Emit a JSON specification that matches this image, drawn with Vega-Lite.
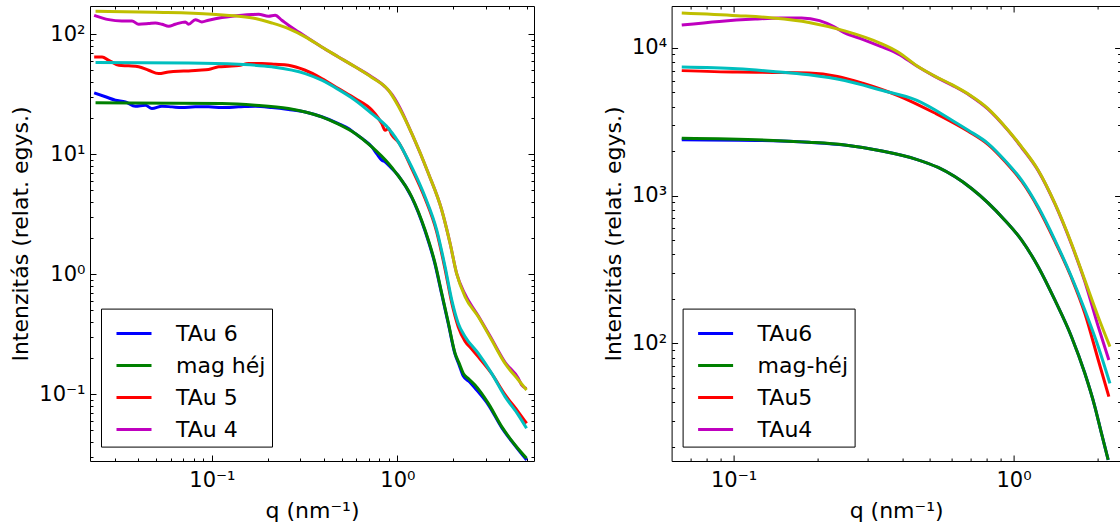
{
"$schema": "https://vega.github.io/schema/vega-lite/v6.json",
"background": "white",
"padding": {"left": 9, "top": 5, "right": 0, "bottom": 0},
"config": {
 "font": "DejaVu Sans",
 "view": {"stroke": "black", "strokeWidth": 1},
 "axis": {"labelFont": "DejaVu Sans", "titleFont": "DejaVu Sans", "labelColor": "black", "titleColor": "black", "tickColor": "black", "tickWidth": 1, "titleFontWeight": "normal", "grid": false, "domain": false}
},
"datasets": {
 "d": [
 {"p":"L","s":"TAu 6","q":0.0232,"I":32.4},{"p":"L","s":"TAu 6","q":0.0267,"I":30.1},{"p":"L","s":"TAu 6","q":0.0302,"I":28.2},{"p":"L","s":"TAu 6","q":0.0342,"I":27.3},{"p":"L","s":"TAu 6","q":0.0387,"I":25.1},{"p":"L","s":"TAu 6","q":0.0438,"I":25.6},{"p":"L","s":"TAu 6","q":0.0475,"I":24.0},{"p":"L","s":"TAu 6","q":0.0538,"I":25.1},{"p":"L","s":"TAu 6","q":0.061,"I":24.8},{"p":"L","s":"TAu 6","q":0.0689,"I":24.5},{"p":"L","s":"TAu 6","q":0.0814,"I":24.8},{"p":"L","s":"TAu 6","q":0.0959,"I":24.8},{"p":"L","s":"TAu 6","q":0.1132,"I":24.5},{"p":"L","s":"TAu 6","q":0.1393,"I":24.8},{"p":"L","s":"TAu 6","q":0.1714,"I":25.1},{"p":"L","s":"TAu 6","q":0.2104,"I":24.5},{"p":"L","s":"TAu 6","q":0.2588,"I":23.6},{"p":"L","s":"TAu 6","q":0.3184,"I":22.5},{"p":"L","s":"TAu 6","q":0.3908,"I":20.5},{"p":"L","s":"TAu 6","q":0.4808,"I":18.0},{"p":"L","s":"TAu 6","q":0.55,"I":16.2},{"p":"L","s":"TAu 6","q":0.5916,"I":14.9},{"p":"L","s":"TAu 6","q":0.65,"I":13.4},{"p":"L","s":"TAu 6","q":0.7278,"I":11.5},{"p":"L","s":"TAu 6","q":0.78,"I":9.9},{"p":"L","s":"TAu 6","q":0.8232,"I":8.91},{"p":"L","s":"TAu 6","q":0.86,"I":8.6},{"p":"L","s":"TAu 6","q":0.8954,"I":8.09},{"p":"L","s":"TAu 6","q":1.012,"I":6.61},{"p":"L","s":"TAu 6","q":1.194,"I":4.37},{"p":"L","s":"TAu 6","q":1.409,"I":2.29},{"p":"L","s":"TAu 6","q":1.596,"I":1.202},{"p":"L","s":"TAu 6","q":1.734,"I":0.676},{"p":"L","s":"TAu 6","q":1.884,"I":0.38},{"p":"L","s":"TAu 6","q":2.046,"I":0.214},{"p":"L","s":"TAu 6","q":2.15,"I":0.175},{"p":"L","s":"TAu 6","q":2.265,"I":0.141},{"p":"L","s":"TAu 6","q":2.45,"I":0.126},{"p":"L","s":"TAu 6","q":2.618,"I":0.112},{"p":"L","s":"TAu 6","q":3.09,"I":0.0813},{"p":"L","s":"TAu 6","q":3.648,"I":0.0525},{"p":"L","s":"TAu 6","q":4.305,"I":0.0372},{"p":"L","s":"TAu 6","q":4.966,"I":0.0282},
 {"p":"L","s":"mag héj","q":0.0236,"I":26.8},{"p":"L","s":"mag héj","q":0.1132,"I":26.4},{"p":"L","s":"mag héj","q":0.1714,"I":25.6},{"p":"L","s":"mag héj","q":0.2588,"I":24.0},{"p":"L","s":"mag héj","q":0.3184,"I":22.5},{"p":"L","s":"mag héj","q":0.3908,"I":20.5},{"p":"L","s":"mag héj","q":0.4808,"I":17.8},{"p":"L","s":"mag héj","q":0.5916,"I":14.9},{"p":"L","s":"mag héj","q":0.7278,"I":11.5},{"p":"L","s":"mag héj","q":0.8954,"I":8.36},{"p":"L","s":"mag héj","q":0.973,"I":7.13},{"p":"L","s":"mag héj","q":1.194,"I":4.41},{"p":"L","s":"mag héj","q":1.409,"I":2.33},{"p":"L","s":"mag héj","q":1.596,"I":1.227},{"p":"L","s":"mag héj","q":1.734,"I":0.69},{"p":"L","s":"mag héj","q":1.884,"I":0.388},{"p":"L","s":"mag héj","q":2.046,"I":0.218},{"p":"L","s":"mag héj","q":2.15,"I":0.181},{"p":"L","s":"mag héj","q":2.265,"I":0.1486},{"p":"L","s":"mag héj","q":2.42,"I":0.134},{"p":"L","s":"mag héj","q":2.618,"I":0.1189},{"p":"L","s":"mag héj","q":3.09,"I":0.0836},{"p":"L","s":"mag héj","q":3.648,"I":0.0535},{"p":"L","s":"mag héj","q":4.305,"I":0.0376},{"p":"L","s":"mag héj","q":4.966,"I":0.0291},
 {"p":"L","s":"TAu 5","q":0.0232,"I":64.7},{"p":"L","s":"TAu 5","q":0.0256,"I":64.7},{"p":"L","s":"TAu 5","q":0.0278,"I":60.7},{"p":"L","s":"TAu 5","q":0.0315,"I":55.2},{"p":"L","s":"TAu 5","q":0.0356,"I":54.5},{"p":"L","s":"TAu 5","q":0.0403,"I":53.5},{"p":"L","s":"TAu 5","q":0.0456,"I":50.1},{"p":"L","s":"TAu 5","q":0.0516,"I":47.0},{"p":"L","s":"TAu 5","q":0.0585,"I":48.5},{"p":"L","s":"TAu 5","q":0.0662,"I":49.2},{"p":"L","s":"TAu 5","q":0.0748,"I":49.4},{"p":"L","s":"TAu 5","q":0.0847,"I":50.1},{"p":"L","s":"TAu 5","q":0.0959,"I":50.8},{"p":"L","s":"TAu 5","q":0.1087,"I":53.5},{"p":"L","s":"TAu 5","q":0.123,"I":54.1},{"p":"L","s":"TAu 5","q":0.1393,"I":54.8},{"p":"L","s":"TAu 5","q":0.1578,"I":57.0},{"p":"L","s":"TAu 5","q":0.1858,"I":57.0},{"p":"L","s":"TAu 5","q":0.2193,"I":56.2},{"p":"L","s":"TAu 5","q":0.2588,"I":55.2},{"p":"L","s":"TAu 5","q":0.3184,"I":50.1},{"p":"L","s":"TAu 5","q":0.3908,"I":42.8},{"p":"L","s":"TAu 5","q":0.4808,"I":35.2},{"p":"L","s":"TAu 5","q":0.5916,"I":29.1},{"p":"L","s":"TAu 5","q":0.7278,"I":23.3},{"p":"L","s":"TAu 5","q":0.8232,"I":18.0},{"p":"L","s":"TAu 5","q":0.8586,"I":15.8},{"p":"L","s":"TAu 5","q":0.8954,"I":16.4},{"p":"L","s":"TAu 5","q":0.931,"I":14.5},{"p":"L","s":"TAu 5","q":1.012,"I":12.6},{"p":"L","s":"TAu 5","q":1.194,"I":7.59},{"p":"L","s":"TAu 5","q":1.409,"I":4.27},{"p":"L","s":"TAu 5","q":1.629,"I":2.24},{"p":"L","s":"TAu 5","q":1.807,"I":1.096},{"p":"L","s":"TAu 5","q":1.963,"I":0.575},{"p":"L","s":"TAu 5","q":2.128,"I":0.363},{"p":"L","s":"TAu 5","q":2.317,"I":0.275},{"p":"L","s":"TAu 5","q":2.5,"I":0.24},{"p":"L","s":"TAu 5","q":2.729,"I":0.204},{"p":"L","s":"TAu 5","q":3.221,"I":0.148},{"p":"L","s":"TAu 5","q":3.802,"I":0.0989},{"p":"L","s":"TAu 5","q":4.487,"I":0.0708},{"p":"L","s":"TAu 5","q":4.966,"I":0.057},
 {"p":"L","s":"fL5","q":0.0236,"I":58.1},{"p":"L","s":"fL5","q":0.0748,"I":57.7},{"p":"L","s":"fL5","q":0.1393,"I":56.2},{"p":"L","s":"fL5","q":0.2104,"I":53.5},{"p":"L","s":"fL5","q":0.3184,"I":47.0},{"p":"L","s":"fL5","q":0.3908,"I":41.4},{"p":"L","s":"fL5","q":0.4808,"I":34.6},{"p":"L","s":"fL5","q":0.5916,"I":28.2},{"p":"L","s":"fL5","q":0.7278,"I":21.8},{"p":"L","s":"fL5","q":0.8954,"I":16.4},{"p":"L","s":"fL5","q":0.973,"I":13.9},{"p":"L","s":"fL5","q":1.194,"I":7.83},{"p":"L","s":"fL5","q":1.409,"I":4.41},{"p":"L","s":"fL5","q":1.629,"I":2.33},{"p":"L","s":"fL5","q":1.807,"I":1.151},{"p":"L","s":"fL5","q":1.963,"I":0.607},{"p":"L","s":"fL5","q":2.128,"I":0.388},{"p":"L","s":"fL5","q":2.317,"I":0.301},{"p":"L","s":"fL5","q":2.729,"I":0.218},{"p":"L","s":"fL5","q":3.221,"I":0.1486},{"p":"L","s":"fL5","q":3.802,"I":0.0951},{"p":"L","s":"fL5","q":4.487,"I":0.0668},{"p":"L","s":"fL5","q":4.966,"I":0.0518},
 {"p":"L","s":"TAu 4","q":0.0232,"I":143.9},{"p":"L","s":"TAu 4","q":0.0278,"I":132.4},{"p":"L","s":"TAu 4","q":0.0327,"I":129.1},{"p":"L","s":"TAu 4","q":0.0371,"I":129.1},{"p":"L","s":"TAu 4","q":0.0403,"I":121.1},{"p":"L","s":"TAu 4","q":0.0456,"I":122.7},{"p":"L","s":"TAu 4","q":0.0496,"I":124.2},{"p":"L","s":"TAu 4","q":0.0538,"I":121.1},{"p":"L","s":"TAu 4","q":0.0585,"I":116.7},{"p":"L","s":"TAu 4","q":0.0635,"I":121.1},{"p":"L","s":"TAu 4","q":0.0719,"I":126.8},{"p":"L","s":"TAu 4","q":0.0748,"I":121.1},{"p":"L","s":"TAu 4","q":0.0814,"I":132.4},{"p":"L","s":"TAu 4","q":0.0883,"I":126.8},{"p":"L","s":"TAu 4","q":0.0959,"I":130.9},{"p":"L","s":"TAu 4","q":0.1132,"I":137.7},{"p":"L","s":"TAu 4","q":0.1282,"I":141.3},{"p":"L","s":"TAu 4","q":0.1452,"I":143.9},{"p":"L","s":"TAu 4","q":0.1642,"I":145.9},{"p":"L","s":"TAu 4","q":0.1783,"I":146.9},{"p":"L","s":"TAu 4","q":0.2018,"I":141.3},{"p":"L","s":"TAu 4","q":0.2193,"I":143.9},{"p":"L","s":"TAu 4","q":0.2382,"I":130.9},{"p":"L","s":"TAu 4","q":0.2588,"I":118.9},{"p":"L","s":"TAu 4","q":0.2931,"I":104.5},{"p":"L","s":"TAu 4","q":0.3319,"I":92.0},{"p":"L","s":"TAu 4","q":0.3908,"I":78.3},{"p":"L","s":"TAu 4","q":0.4808,"I":64.7},{"p":"L","s":"TAu 4","q":0.5916,"I":53.5},{"p":"L","s":"TAu 4","q":0.7278,"I":44.1},{"p":"L","s":"TAu 4","q":0.8586,"I":36.4},{"p":"L","s":"TAu 4","q":0.9318,"I":31.6},{"p":"L","s":"TAu 4","q":1.012,"I":25.7},{"p":"L","s":"TAu 4","q":1.194,"I":14.9},{"p":"L","s":"TAu 4","q":1.469,"I":6.9},{"p":"L","s":"TAu 4","q":1.734,"I":3.41},{"p":"L","s":"TAu 4","q":1.923,"I":1.8},{"p":"L","s":"TAu 4","q":2.084,"I":1.014},{"p":"L","s":"TAu 4","q":2.317,"I":0.676},{"p":"L","s":"TAu 4","q":2.729,"I":0.447},{"p":"L","s":"TAu 4","q":3.221,"I":0.288},{"p":"L","s":"TAu 4","q":3.802,"I":0.184},{"p":"L","s":"TAu 4","q":4.487,"I":0.135},{"p":"L","s":"TAu 4","q":4.67,"I":0.119},{"p":"L","s":"TAu 4","q":4.966,"I":0.111},
 {"p":"L","s":"fL4","q":0.0236,"I":155.6},{"p":"L","s":"fL4","q":0.0496,"I":152.4},{"p":"L","s":"fL4","q":0.1,"I":146.9},{"p":"L","s":"fL4","q":0.1393,"I":141.3},{"p":"L","s":"fL4","q":0.1714,"I":135.2},{"p":"L","s":"fL4","q":0.2104,"I":124.2},{"p":"L","s":"fL4","q":0.2588,"I":111.4},{"p":"L","s":"fL4","q":0.3184,"I":95.1},{"p":"L","s":"fL4","q":0.3908,"I":78.3},{"p":"L","s":"fL4","q":0.4808,"I":64.7},{"p":"L","s":"fL4","q":0.5916,"I":53.5},{"p":"L","s":"fL4","q":0.7278,"I":43.6},{"p":"L","s":"fL4","q":0.8954,"I":34.1},{"p":"L","s":"fL4","q":1.012,"I":25.1},{"p":"L","s":"fL4","q":1.194,"I":14.9},{"p":"L","s":"fL4","q":1.469,"I":6.9},{"p":"L","s":"fL4","q":1.734,"I":3.41},{"p":"L","s":"fL4","q":1.923,"I":1.8},{"p":"L","s":"fL4","q":2.084,"I":1.014},{"p":"L","s":"fL4","q":2.317,"I":0.647},{"p":"L","s":"fL4","q":2.729,"I":0.441},{"p":"L","s":"fL4","q":3.221,"I":0.282},{"p":"L","s":"fL4","q":3.802,"I":0.18},{"p":"L","s":"fL4","q":4.487,"I":0.131},{"p":"L","s":"fL4","q":4.966,"I":0.108},
 {"p":"R","s":"TAu6","q":0.0653,"I":2388},{"p":"R","s":"TAu6","q":0.1384,"I":2350},{"p":"R","s":"TAu6","q":0.1858,"I":2291},{"p":"R","s":"TAu6","q":0.2495,"I":2198},{"p":"R","s":"TAu6","q":0.335,"I":2009},{"p":"R","s":"TAu6","q":0.4498,"I":1758},{"p":"R","s":"TAu6","q":0.538,"I":1549},{"p":"R","s":"TAu6","q":0.708,"I":1117},{"p":"R","s":"TAu6","q":0.931,"I":682},{"p":"R","s":"TAu6","q":1.069,"I":500},{"p":"R","s":"TAu6","q":1.225,"I":330},{"p":"R","s":"TAu6","q":1.406,"I":196},{"p":"R","s":"TAu6","q":1.611,"I":111},{"p":"R","s":"TAu6","q":1.798,"I":62.8},{"p":"R","s":"TAu6","q":1.953,"I":37.3},{"p":"R","s":"TAu6","q":2.061,"I":24.7},{"p":"R","s":"TAu6","q":2.179,"I":16.3},
 {"p":"R","s":"mag-héj","q":0.0653,"I":2438},{"p":"R","s":"mag-héj","q":0.1384,"I":2360},{"p":"R","s":"mag-héj","q":0.1858,"I":2295},{"p":"R","s":"mag-héj","q":0.2495,"I":2198},{"p":"R","s":"mag-héj","q":0.335,"I":2009},{"p":"R","s":"mag-héj","q":0.4498,"I":1758},{"p":"R","s":"mag-héj","q":0.538,"I":1549},{"p":"R","s":"mag-héj","q":0.708,"I":1117},{"p":"R","s":"mag-héj","q":0.931,"I":682},{"p":"R","s":"mag-héj","q":1.069,"I":500},{"p":"R","s":"mag-héj","q":1.225,"I":330},{"p":"R","s":"mag-héj","q":1.406,"I":196},{"p":"R","s":"mag-héj","q":1.611,"I":111},{"p":"R","s":"mag-héj","q":1.798,"I":62.8},{"p":"R","s":"mag-héj","q":1.953,"I":37.3},{"p":"R","s":"mag-héj","q":2.061,"I":24.7},{"p":"R","s":"mag-héj","q":2.179,"I":16.3},
 {"p":"R","s":"TAu5","q":0.0653,"I":7000},{"p":"R","s":"TAu5","q":0.1031,"I":6839},{"p":"R","s":"TAu5","q":0.1384,"I":6808},{"p":"R","s":"TAu5","q":0.1858,"I":6745},{"p":"R","s":"TAu5","q":0.235,"I":6397},{"p":"R","s":"TAu5","q":0.2891,"I":5754},{"p":"R","s":"TAu5","q":0.3882,"I":4732},{"p":"R","s":"TAu5","q":0.5212,"I":3631},{"p":"R","s":"TAu5","q":0.689,"I":2720},{"p":"R","s":"TAu5","q":0.812,"I":2210},{"p":"R","s":"TAu5","q":0.931,"I":1705},{"p":"R","s":"TAu5","q":1.069,"I":1250},{"p":"R","s":"TAu5","q":1.225,"I":825},{"p":"R","s":"TAu5","q":1.406,"I":490},{"p":"R","s":"TAu5","q":1.611,"I":278},{"p":"R","s":"TAu5","q":1.798,"I":160},{"p":"R","s":"TAu5","q":2.008,"I":77.3},{"p":"R","s":"TAu5","q":2.191,"I":43.7},
 {"p":"R","s":"fR5","q":0.0653,"I":7413},{"p":"R","s":"fR5","q":0.1031,"I":7211},{"p":"R","s":"fR5","q":0.1384,"I":6918},{"p":"R","s":"fR5","q":0.1858,"I":6561},{"p":"R","s":"fR5","q":0.2495,"I":5998},{"p":"R","s":"fR5","q":0.335,"I":5176},{"p":"R","s":"fR5","q":0.4498,"I":4416},{"p":"R","s":"fR5","q":0.6026,"I":3236},{"p":"R","s":"fR5","q":0.689,"I":2767},{"p":"R","s":"fR5","q":0.812,"I":2249},{"p":"R","s":"fR5","q":0.931,"I":1734},{"p":"R","s":"fR5","q":1.069,"I":1271},{"p":"R","s":"fR5","q":1.225,"I":839},{"p":"R","s":"fR5","q":1.406,"I":500},{"p":"R","s":"fR5","q":1.611,"I":282.5},{"p":"R","s":"fR5","q":1.798,"I":168.3},{"p":"R","s":"fR5","q":2.008,"I":95.1},{"p":"R","s":"fR5","q":2.21,"I":53.7},
 {"p":"R","s":"TAu4","q":0.0653,"I":14220},{"p":"R","s":"TAu4","q":0.0889,"I":15070},{"p":"R","s":"TAu4","q":0.1194,"I":15630},{"p":"R","s":"TAu4","q":0.1469,"I":15890},{"p":"R","s":"TAu4","q":0.175,"I":15890},{"p":"R","s":"TAu4","q":0.2028,"I":15240},{"p":"R","s":"TAu4","q":0.228,"I":13900},{"p":"R","s":"TAu4","q":0.2495,"I":12600},{"p":"R","s":"TAu4","q":0.2891,"I":11400},{"p":"R","s":"TAu4","q":0.335,"I":10200},{"p":"R","s":"TAu4","q":0.3882,"I":9050},{"p":"R","s":"TAu4","q":0.4498,"I":7550},{"p":"R","s":"TAu4","q":0.5212,"I":6420},{"p":"R","s":"TAu4","q":0.6026,"I":5580},{"p":"R","s":"TAu4","q":0.6982,"I":4760},{"p":"R","s":"TAu4","q":0.8091,"I":3860},{"p":"R","s":"TAu4","q":0.957,"I":2750},{"p":"R","s":"TAu4","q":1.069,"I":2115},{"p":"R","s":"TAu4","q":1.225,"I":1475},{"p":"R","s":"TAu4","q":1.406,"I":878},{"p":"R","s":"TAu4","q":1.611,"I":468},{"p":"R","s":"TAu4","q":1.798,"I":262},{"p":"R","s":"TAu4","q":2.008,"I":130},{"p":"R","s":"TAu4","q":2.191,"I":77.3},
 {"p":"R","s":"fR4","q":0.0653,"I":17180},{"p":"R","s":"fR4","q":0.1031,"I":16480},{"p":"R","s":"fR4","q":0.1384,"I":15890},{"p":"R","s":"fR4","q":0.1858,"I":14830},{"p":"R","s":"fR4","q":0.2495,"I":13000},{"p":"R","s":"fR4","q":0.335,"I":10720},{"p":"R","s":"fR4","q":0.3882,"I":9333},{"p":"R","s":"fR4","q":0.4498,"I":7586},{"p":"R","s":"fR4","q":0.5212,"I":6457},{"p":"R","s":"fR4","q":0.6026,"I":5623},{"p":"R","s":"fR4","q":0.6982,"I":4786},{"p":"R","s":"fR4","q":0.8091,"I":3890},{"p":"R","s":"fR4","q":0.957,"I":2767},{"p":"R","s":"fR4","q":1.069,"I":2133},{"p":"R","s":"fR4","q":1.225,"I":1486},{"p":"R","s":"fR4","q":1.406,"I":885},{"p":"R","s":"fR4","q":1.611,"I":474},{"p":"R","s":"fR4","q":1.798,"I":268},{"p":"R","s":"fR4","q":2.008,"I":151},{"p":"R","s":"fR4","q":2.21,"I":95.1}
 ]
},
"bounds": "flush",
"spacing": 137.6,
"resolve": {"scale": {"color": "independent"}},
"hconcat": [
 {
  "width": 444, "height": 455,
  "data": {"name": "d"},
  "transform": [{"filter": "datum.p == 'L'"}],
  "resolve": {"axis": {"x": "independent", "y": "independent"}},
  "layer": [
   {
    "mark": {"type": "line", "strokeWidth": 3, "interpolate": "monotone", "clip": true},
    "encoding": {
     "x": {"field": "q", "type": "quantitative", "scale": {"type": "log", "domain": [0.02203, 5.446], "nice": false},
      "axis": {"orient": "bottom", "values": [0.1, 1], "ticks": false, "labelExpr": "'10' + ['⁻¹','⁰','¹','²','³','⁴'][round(log(datum.value)/LN10)+1]", "labelFontSize": 21, "labelPadding": 8, "labelFlush": false, "title": "q (nm⁻¹)", "titleFontSize": 22, "titlePadding": 10}},
     "y": {"field": "I", "type": "quantitative", "scale": {"type": "log", "domain": [0.02765, 172.0], "nice": false},
      "axis": {"orient": "left", "values": [0.1, 1, 10, 100], "ticks": false, "labelExpr": "'10' + ['⁻¹','⁰','¹','²','³','⁴'][round(log(datum.value)/LN10)+1]", "labelFontSize": 21, "labelPadding": 5, "labelFlush": false, "title": "Intenzitás (relat. egys.)", "titleFontSize": 22, "titlePadding": 6}},
     "color": {"field": "s", "type": "nominal",
      "scale": {"domain": ["TAu 6", "mag héj", "TAu 5", "fL5", "TAu 4", "fL4"], "range": ["#0000ff", "#008000", "#ff0000", "#00bfbf", "#bf00bf", "#bfbf00"]},
      "legend": {"values": ["TAu 6", "mag héj", "TAu 5", "TAu 4"], "title": null, "orient": "none", "legendX": 11, "legendY": 302.6, "labelFont": "DejaVu Sans", "labelColor": "black", "labelFontSize": 22, "symbolType": "stroke", "symbolSize": 1225, "symbolStrokeWidth": 3, "labelOffset": 23, "padding": 6, "symbolOffset": 8, "rowPadding": 2, "strokeColor": "black", "fillColor": "white", "cornerRadius": 0, "labelLimit": 0, "labelExpr": "datum.label + ' '"}}
    }
   },
   {
    "mark": {"type": "point", "opacity": 0},
    "encoding": {
     "x": {"field": "q", "type": "quantitative", "scale": {"type": "log", "domain": [0.02203, 5.446], "nice": false},
      "axis": {"orient": "bottom", "values": [0.1, 1], "labels": false, "tickSize": -6, "title": null}},
     "y": {"field": "I", "type": "quantitative", "scale": {"type": "log", "domain": [0.02765, 172.0], "nice": false},
      "axis": {"orient": "left", "values": [0.1, 1, 10, 100], "labels": false, "tickSize": -6, "title": null}}
    }
   },
   {
    "mark": {"type": "point", "opacity": 0},
    "encoding": {
     "x": {"field": "q", "type": "quantitative", "scale": {"type": "log", "domain": [0.02203, 5.446], "nice": false},
      "axis": {"orient": "bottom", "values": [0.03,0.04,0.05,0.06,0.07,0.08,0.09,0.2,0.3,0.4,0.5,0.6,0.7,0.8,0.9,2,3,4,5], "labels": false, "tickSize": -3, "title": null}},
     "y": {"field": "I", "type": "quantitative", "scale": {"type": "log", "domain": [0.02765, 172.0], "nice": false},
      "axis": {"orient": "left", "values": [0.03,0.04,0.05,0.06,0.07,0.08,0.09,0.2,0.3,0.4,0.5,0.6,0.7,0.8,0.9,2,3,4,5,6,7,8,9,20,30,40,50,60,70,80,90], "labels": false, "tickSize": -3, "title": null}}
    }
   },
   {
    "mark": {"type": "point", "opacity": 0},
    "encoding": {
     "x": {"field": "q", "type": "quantitative", "scale": {"type": "log", "domain": [0.02203, 5.446], "nice": false},
      "axis": {"orient": "top", "values": [0.1, 1], "labels": false, "tickSize": -6, "title": null}},
     "y": {"field": "I", "type": "quantitative", "scale": {"type": "log", "domain": [0.02765, 172.0], "nice": false},
      "axis": {"orient": "right", "values": [0.1, 1, 10, 100], "labels": false, "tickSize": -6, "title": null}}
    }
   },
   {
    "mark": {"type": "point", "opacity": 0},
    "encoding": {
     "x": {"field": "q", "type": "quantitative", "scale": {"type": "log", "domain": [0.02203, 5.446], "nice": false},
      "axis": {"orient": "top", "values": [0.03,0.04,0.05,0.06,0.07,0.08,0.09,0.2,0.3,0.4,0.5,0.6,0.7,0.8,0.9,2,3,4,5], "labels": false, "tickSize": -3, "title": null}},
     "y": {"field": "I", "type": "quantitative", "scale": {"type": "log", "domain": [0.02765, 172.0], "nice": false},
      "axis": {"orient": "right", "values": [0.03,0.04,0.05,0.06,0.07,0.08,0.09,0.2,0.3,0.4,0.5,0.6,0.7,0.8,0.9,2,3,4,5,6,7,8,9,20,30,40,50,60,70,80,90], "labels": false, "tickSize": -3, "title": null}}
    }
   }
  ]
 },
 {
  "width": 449, "height": 455,
  "data": {"name": "d"},
  "transform": [{"filter": "datum.p == 'R'"}],
  "resolve": {"axis": {"x": "independent", "y": "independent"}},
  "layer": [
   {
    "mark": {"type": "line", "strokeWidth": 3, "interpolate": "monotone", "clip": true},
    "encoding": {
     "x": {"field": "q", "type": "quantitative", "scale": {"type": "log", "domain": [0.06007, 2.413], "nice": false},
      "axis": {"orient": "bottom", "values": [0.1, 1], "ticks": false, "labelExpr": "'10' + ['⁻¹','⁰','¹','²','³','⁴'][round(log(datum.value)/LN10)+1]", "labelFontSize": 21, "labelPadding": 8, "labelFlush": false, "title": "q (nm⁻¹)", "titleFontSize": 22, "titlePadding": 10}},
     "y": {"field": "I", "type": "quantitative", "scale": {"type": "log", "domain": [16.03, 19150], "nice": false},
      "axis": {"orient": "left", "values": [100, 1000, 10000], "ticks": false, "labelExpr": "'10' + ['⁻¹','⁰','¹','²','³','⁴'][round(log(datum.value)/LN10)+1]", "labelFontSize": 21, "labelPadding": 5, "labelFlush": false, "title": "Intenzitás (relat. egys.)", "titleFontSize": 22, "titlePadding": 6}},
     "color": {"field": "s", "type": "nominal",
      "scale": {"domain": ["TAu6", "mag-héj", "TAu5", "fR5", "TAu4", "fR4"], "range": ["#0000ff", "#008000", "#ff0000", "#00bfbf", "#bf00bf", "#bfbf00"]},
      "legend": {"values": ["TAu6", "mag-héj", "TAu5", "TAu4"], "title": null, "orient": "none", "legendX": 11, "legendY": 302.6, "labelFont": "DejaVu Sans", "labelColor": "black", "labelFontSize": 22, "symbolType": "stroke", "symbolSize": 1225, "symbolStrokeWidth": 3, "labelOffset": 23, "padding": 6, "symbolOffset": 8, "rowPadding": 2, "strokeColor": "black", "fillColor": "white", "cornerRadius": 0, "labelLimit": 0, "labelExpr": "datum.label + ' '"}}
    }
   },
   {
    "mark": {"type": "point", "opacity": 0},
    "encoding": {
     "x": {"field": "q", "type": "quantitative", "scale": {"type": "log", "domain": [0.06007, 2.413], "nice": false},
      "axis": {"orient": "bottom", "values": [0.1, 1], "labels": false, "tickSize": -6, "title": null}},
     "y": {"field": "I", "type": "quantitative", "scale": {"type": "log", "domain": [16.03, 19150], "nice": false},
      "axis": {"orient": "left", "values": [100, 1000, 10000], "labels": false, "tickSize": -6, "title": null}}
    }
   },
   {
    "mark": {"type": "point", "opacity": 0},
    "encoding": {
     "x": {"field": "q", "type": "quantitative", "scale": {"type": "log", "domain": [0.06007, 2.413], "nice": false},
      "axis": {"orient": "bottom", "values": [0.07,0.08,0.09,0.2,0.3,0.4,0.5,0.6,0.7,0.8,0.9,2], "labels": false, "tickSize": -3, "title": null}},
     "y": {"field": "I", "type": "quantitative", "scale": {"type": "log", "domain": [16.03, 19150], "nice": false},
      "axis": {"orient": "left", "values": [20,30,40,50,60,70,80,90,200,300,400,500,600,700,800,900,2000,3000,4000,5000,6000,7000,8000,9000], "labels": false, "tickSize": -3, "title": null}}
    }
   },
   {
    "mark": {"type": "point", "opacity": 0},
    "encoding": {
     "x": {"field": "q", "type": "quantitative", "scale": {"type": "log", "domain": [0.06007, 2.413], "nice": false},
      "axis": {"orient": "top", "values": [0.1, 1], "labels": false, "tickSize": -6, "title": null}},
     "y": {"field": "I", "type": "quantitative", "scale": {"type": "log", "domain": [16.03, 19150], "nice": false},
      "axis": {"orient": "right", "values": [100, 1000, 10000], "labels": false, "tickSize": -6, "title": null}}
    }
   },
   {
    "mark": {"type": "point", "opacity": 0},
    "encoding": {
     "x": {"field": "q", "type": "quantitative", "scale": {"type": "log", "domain": [0.06007, 2.413], "nice": false},
      "axis": {"orient": "top", "values": [0.07,0.08,0.09,0.2,0.3,0.4,0.5,0.6,0.7,0.8,0.9,2], "labels": false, "tickSize": -3, "title": null}},
     "y": {"field": "I", "type": "quantitative", "scale": {"type": "log", "domain": [16.03, 19150], "nice": false},
      "axis": {"orient": "right", "values": [20,30,40,50,60,70,80,90,200,300,400,500,600,700,800,900,2000,3000,4000,5000,6000,7000,8000,9000], "labels": false, "tickSize": -3, "title": null}}
    }
   }
  ]
 }
]
}
